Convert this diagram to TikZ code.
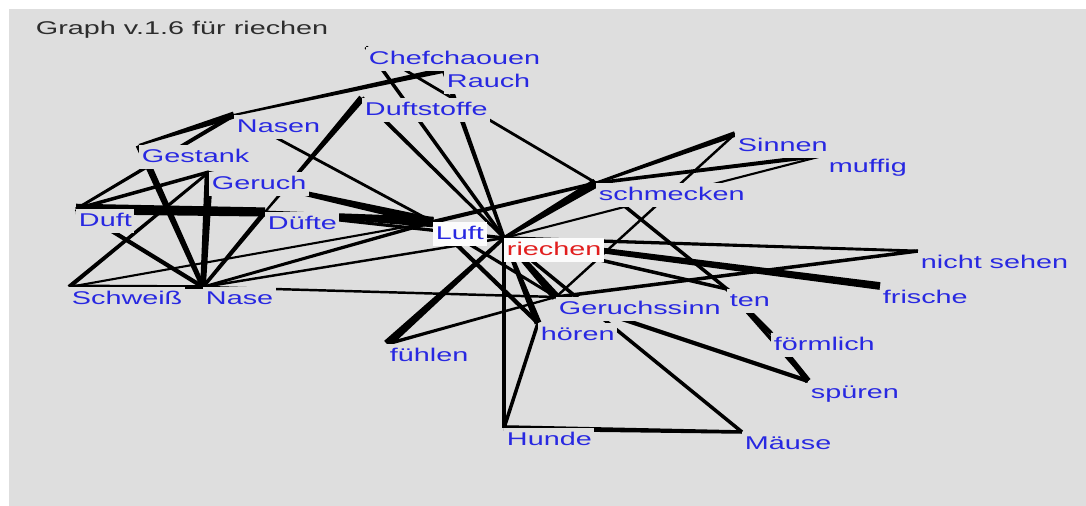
\documentclass[tikz,border=0pt]{standalone}
\usepackage{fontspec}
\newfontfamily\graphfont[FakeStretch=1.56]{Liberation Sans}
\usetikzlibrary{calc}
\definecolor{graphbg}{RGB}{222,222,222}
\definecolor{wordblue}{RGB}{40,40,225}
\definecolor{wordred}{RGB}{225,30,30}
\definecolor{titlegray}{RGB}{45,45,45}
\pgfdeclarelayer{back}
\pgfdeclarelayer{edges}
\pgfsetlayers{back,edges,main}

\begin{document}
\begin{tikzpicture}[
    x=0.02cm, y=-0.02cm,
    word/.style={anchor=north west, fill=graphbg, text=wordblue, inner sep=1.5pt,
        text height=8pt, text depth=2.5pt, font=\graphfont\fontsize{10.5}{12}\selectfont},
    hub/.style={word, fill=white!92!graphbg},
    wedge/.style 2 args={to path={
        ($(\tikztostart)!#1!90:(\tikztotarget)$) -- ($(\tikztotarget)!#2!-90:(\tikztostart)$)
        -- ($(\tikztotarget)!#2!90:(\tikztostart)$) -- ($(\tikztostart)!#1!-90:(\tikztotarget)$) -- cycle}}
]
    \begin{pgfonlayer}{back}
        \fill[white] (0,0) rectangle (1086,506);
        \fill[graphbg] (9,9) rectangle (1086,506);
    \end{pgfonlayer}
    \useasboundingbox (0,0) rectangle (1086,506);

    \node[word, fill=none, text=titlegray] (title) at (33,17) {Graph v.1.6 für riechen};

    % words
    \node[word] (chef) at (366,47) {Chefchaouen};
    \node[word] (rauch) at (444,70) {Rauch};
    \node[word] (duftstoffe) at (362,98) {Duftstoffe};
    \node[word] (nasen) at (234,115) {Nasen};
    \node[word] (gestank) at (139,145) {Gestank};
    \node[word] (geruch) at (209,172) {Geruch};
    \node[word] (duft) at (76,209) {Duft};
    \node[word] (duefte) at (265,212) {Düfte};
    \node[hub] (luft) at (433,222) {Luft};
    \node[hub, text=wordred] (riechen) at (504,238) {riechen};
    \node[word] (schmecken) at (596,183) {schmecken};
    \node[word] (sinnen) at (735,134) {Sinnen};
    \node[word] (muffig) at (826,155) {muffig};
    \node[word] (nichtsehen) at (918,251) {nicht sehen};
    \node[word] (frische) at (880,286) {frische};
    \node[word] (ten) at (727,289) {ten};
    \node[word] (geruchssinn) at (556,297) {Geruchssinn};
    \node[word] (hoeren) at (538,323) {hören};
    \node[word] (foermlich) at (771,333) {förmlich};
    \node[word] (spueren) at (808,381) {spüren};
    \node[word] (fuehlen) at (387,344) {fühlen};
    \node[word] (hunde) at (504,428) {Hunde};
    \node[word] (maeuse) at (742,432) {Mäuse};
    \node[word] (schweiss) at (69,287) {Schweiß};
    \node[word] (nase) at (203,287) {Nase};

    % edges, thick end -> thin end
    \begin{pgfonlayer}{edges}
    \foreach \a/\b/\p/\q in {
        nasen/rauch/0.6pt/1.6pt, chef/riechen/1pt/1pt, duftstoffe/riechen/1.2pt/0.8pt,
        rauch/riechen/1.4pt/1pt, chef/schmecken/0.8pt/0.8pt, duefte/duftstoffe/0.6pt/2pt,
        gestank/nasen/0.6pt/2pt, duft/nasen/0.8pt/1.2pt, nasen/luft/0.8pt/0.8pt,
        duft/geruch/1pt/1pt, gestank/nase/2pt/1.4pt,
        geruch/nase/2.4pt/1.6pt, duft/duefte/3pt/2.6pt, duefte/nase/1.4pt/1pt,
        schweiss/nase/1.4pt/1pt, schweiss/geruch/1.2pt/0.8pt, duft/nase/1.2pt/1.2pt,
        nase/luft/0.8pt/1pt, nase/riechen/0.7pt/0.7pt, nase/geruchssinn/0.7pt/0.7pt,
        schweiss/luft/0.6pt/0.6pt, duefte/luft/0.8pt/3pt, geruch/luft/0.6pt/2.6pt,
        duefte/riechen/0.8pt/1pt, riechen/schmecken/1pt/2.6pt, luft/schmecken/1.2pt/1pt,
        riechen/fuehlen/1pt/2.4pt, fuehlen/geruchssinn/1pt/0.6pt, riechen/geruchssinn/1.2pt/2.4pt,
        riechen/hoeren/1pt/2pt, luft/hoeren/1.2pt/1.2pt, luft/geruchssinn/1pt/0.8pt,
        hoeren/hunde/1pt/1pt, riechen/hunde/1.2pt/1.2pt, riechen/maeuse/1pt/1pt,
        hunde/maeuse/1.6pt/1pt, schmecken/sinnen/0.8pt/1.6pt, schmecken/muffig/1pt/1.2pt,
        riechen/muffig/0.6pt/0.6pt, geruchssinn/sinnen/0.7pt/0.7pt, riechen/nichtsehen/1pt/0.8pt,
        geruchssinn/nichtsehen/1pt/1pt, riechen/frische/1.4pt/2.2pt, geruchssinn/spueren/1.2pt/1.2pt,
        ten/foermlich/1.2pt/1.2pt, ten/spueren/1pt/1pt, foermlich/spueren/1pt/1.8pt,
        riechen/ten/1pt/1pt, schmecken/ten/1pt/1pt}
        \fill (\a.north west) to[wedge={\p}{\q}] (\b.north west);
    \end{pgfonlayer}
\end{tikzpicture}
\end{document}
